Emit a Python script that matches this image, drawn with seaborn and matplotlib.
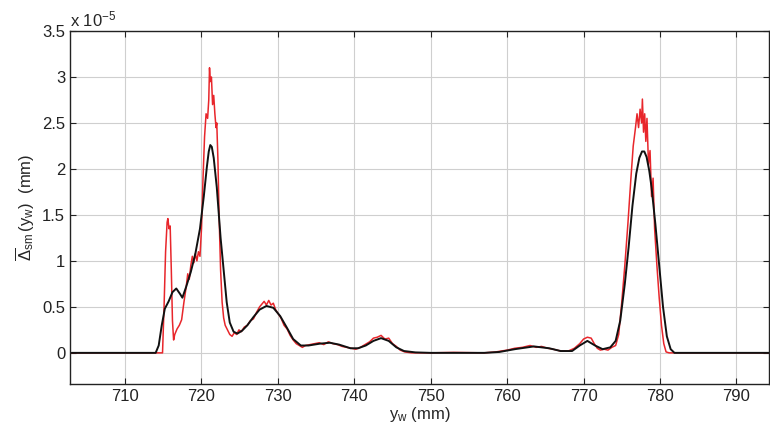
import pandas as pd
import seaborn as sns
import matplotlib.pyplot as plt
from matplotlib.ticker import FuncFormatter

# measured profile (red), values in units of 1e-5 mm
red_y = [703, 714.9, 715.1, 715.3, 715.5, 715.6, 715.75, 715.9, 716.05, 716.2, 716.35, 716.5,
         716.8, 717.1, 717.4, 717.7, 718.0, 718.2, 718.4, 718.6, 718.8, 719.0, 719.2, 719.4,
         719.6, 719.8, 720.0, 720.2, 720.4, 720.6, 720.8, 720.95, 721.05, 721.15, 721.3, 721.45,
         721.6, 721.75, 721.9, 722.0, 722.15, 722.3, 722.5, 722.7, 722.9, 723.1, 723.4, 723.7,
         724.0, 724.3, 724.6, 724.9, 725.2, 725.6, 726.0, 726.4, 726.8, 727.2, 727.6, 727.9,
         728.2, 728.5, 728.8, 729.1, 729.4, 729.7, 730.0, 730.4, 730.8, 731.2, 731.6, 732.0,
         732.4, 732.8, 733.2, 733.6, 734.2, 734.8, 735.4, 736.0, 736.6, 737.2, 737.8, 738.4,
         739.0, 739.6, 740.2, 740.8, 741.4, 742.0, 742.5, 743.0, 743.5, 744.0, 744.5, 745.0,
         745.5, 746.0, 746.6, 747.5, 750, 753, 757, 758.5, 760, 761, 762, 763, 763.8, 764.5,
         765.3, 766.0, 767, 768, 768.8, 769.5, 770.0, 770.5, 771.0, 771.4, 771.8, 772.2, 772.7,
         773.2, 773.7, 774.2, 774.6, 775.0, 775.4, 775.8, 776.2, 776.5, 776.8, 777.0, 777.2,
         777.4, 777.6, 777.7, 777.85, 778.0, 778.15, 778.3, 778.5, 778.7, 778.9, 779.1, 779.3,
         779.6, 779.9, 780.2, 780.5, 780.8, 781.2, 795]
red_d = [0, 0, 0.5, 1.1, 1.42, 1.46, 1.35, 1.38, 0.9, 0.35, 0.14, 0.2,
         0.26, 0.3, 0.36, 0.55, 0.72, 0.86, 0.8, 0.95, 1.05, 0.98, 1.08, 1.0,
         1.1, 1.05, 1.35, 1.9, 2.35, 2.6, 2.55, 2.75, 3.1, 2.95, 3.0, 2.7,
         2.8, 2.6, 2.45, 2.5, 2.1, 1.5, 0.9, 0.55, 0.38, 0.3, 0.25, 0.2,
         0.18, 0.22, 0.2, 0.25, 0.23, 0.28, 0.3, 0.35, 0.37, 0.44, 0.5, 0.53,
         0.56, 0.52, 0.57, 0.52, 0.54, 0.47, 0.43, 0.38, 0.3, 0.26, 0.19, 0.14,
         0.1, 0.08, 0.06, 0.08, 0.09, 0.1, 0.11, 0.09, 0.12, 0.1, 0.09, 0.07,
         0.06, 0.05, 0.04, 0.06, 0.09, 0.12, 0.16, 0.17, 0.19, 0.15, 0.16, 0.1,
         0.07, 0.03, 0.01, 0.0, 0.0, 0.005, 0.0, 0.01, 0.03, 0.05, 0.06, 0.08, 0.06, 0.07,
         0.05, 0.04, 0.02, 0.02, 0.05, 0.1, 0.15, 0.17, 0.16, 0.1, 0.05, 0.03, 0.04,
         0.03, 0.06, 0.08, 0.2, 0.55, 0.95, 1.4, 1.9, 2.25, 2.45, 2.6, 2.45,
         2.65, 2.5, 2.76, 2.4, 2.6, 2.3, 2.55, 2.05, 2.2, 1.7, 1.9, 1.35,
         0.95, 0.6, 0.3, 0.1, 0.01, 0, 0]

# smoothed profile (black)
black_y = [703, 714.0, 714.4, 714.8, 715.2, 715.7, 716.2, 716.7, 717.2, 717.5, 718.0, 718.6,
           719.2, 719.8, 720.3, 720.7, 720.95, 721.15, 721.35, 721.6, 722.0, 722.5, 722.9,
           723.3, 723.7, 724.2, 724.7, 725.3, 726.0, 726.8, 727.6, 728.5, 729.4, 730.3, 731.2,
           732.0, 733.0, 734.0, 735.5, 736.8, 738.0, 739.5, 740.5, 741.5, 742.5, 743.5, 744.5,
           745.5, 746.5, 748, 750, 757, 759, 761, 763.5, 765.5, 767, 768.5, 769.5, 770.5, 771.5,
           772.5, 773.5, 774.2, 774.8, 775.4, 775.9, 776.4, 776.9, 777.3, 777.65, 777.95, 778.25,
           778.6, 778.9, 779.4, 779.9, 780.4, 780.9, 781.4, 781.9, 795]
black_d = [0, 0, 0.08, 0.3, 0.48, 0.56, 0.66, 0.70, 0.64, 0.60, 0.72, 0.88,
           1.08, 1.35, 1.7, 2.02, 2.19, 2.26, 2.24, 2.12, 1.8, 1.25, 0.9,
           0.55, 0.33, 0.23, 0.21, 0.24, 0.30, 0.39, 0.47, 0.51, 0.49, 0.40, 0.27,
           0.15, 0.08, 0.08, 0.10, 0.11, 0.09, 0.05, 0.05, 0.08, 0.13, 0.16, 0.13,
           0.06, 0.02, 0.005, 0, 0, 0.01, 0.04, 0.07, 0.05, 0.02, 0.02, 0.08, 0.13, 0.08,
           0.04, 0.06, 0.13, 0.35, 0.75, 1.15, 1.6, 1.95, 2.12, 2.19, 2.19, 2.13,
           1.98, 1.8, 1.4, 0.95, 0.5, 0.18, 0.04, 0, 0]

y_ticks = [0, 0.5, 1, 1.5, 2, 2.5, 3, 3.5]
x_ticks = [710, 720, 730, 740, 750, 760, 770, 780, 790]

red_df = pd.DataFrame({'y_w': red_y, 'delta': red_d})
black_df = pd.DataFrame({'y_w': black_y, 'delta': black_d})

sns.set_style('ticks')
plt.rcParams['font.family'] = ['Liberation Sans', 'DejaVu Sans']
plt.rcParams['mathtext.default'] = 'regular'
plt.rcParams['xtick.direction'] = 'in'
plt.rcParams['ytick.direction'] = 'in'

fig = plt.figure(figsize=(7.7, 4.37), dpi=100)
ax = fig.add_axes([0.091, 0.121, 0.908, 0.808])

sns.lineplot(data=red_df, x='y_w', y='delta', color='#e8262b', linewidth=1.1, ax=ax)
sns.lineplot(data=black_df, x='y_w', y='delta', color='#111111', linewidth=1.4, ax=ax)

ax.set_xlim(702.8, 794.3)
ax.set_ylim(-0.34, 3.5)
ax.set_xticks(x_ticks)
ax.set_yticks(y_ticks)
ax.yaxis.set_major_formatter(FuncFormatter(lambda v, p: f'{v:g}'))
ax.tick_params(labelsize=12, length=4, width=0.8, top=True, right=True, colors='#222222')
ax.grid(True, color='#cfcfcf', linewidth=0.8)
for s in ax.spines.values():
    s.set_linewidth(1.0)
    s.set_color('#222222')

ax.set_xlabel(r'$y_w$ (mm)', fontsize=12, labelpad=1)
ax.set_ylabel(r'$\overline{\Delta}_{sm}\,(y_w)$  (mm)', fontsize=12, labelpad=4)
ax.text(0.0, 1.005, r'x 10$^{-5}$', transform=ax.transAxes, fontsize=12,
        ha='left', va='bottom')

fig.savefig('out.png', dpi=100)
